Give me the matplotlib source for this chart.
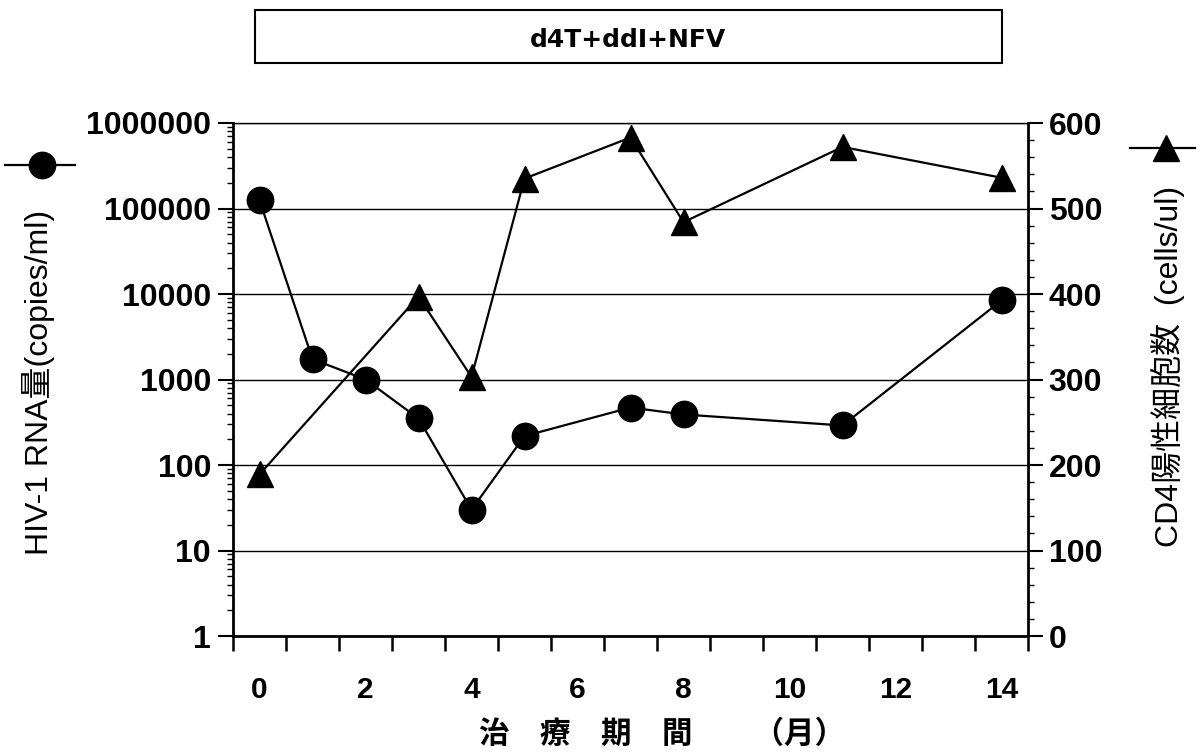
import matplotlib
matplotlib.use('Agg')
import matplotlib.pyplot as plt
from matplotlib.ticker import FixedLocator, NullFormatter, LogLocator, MultipleLocator
from matplotlib.lines import Line2D
from matplotlib.patches import Rectangle

# ---- data ----
months = list(range(15))
x_tick_months = [0, 2, 4, 6, 8, 10, 12, 14]
x_tick_labels = ['0', '2', '4', '6', '8', '10', '12', '14']

rna_months = [0, 1, 2, 3, 4, 5, 7, 8, 11, 14]
rna_values = [125000, 1730, 1000, 350, 30, 218, 470, 390, 290, 8400]

cd4_months = [0, 3, 4, 5, 7, 8, 11, 14]
cd4_values = [189, 397, 303, 535, 583, 484, 572, 536]

rna_ticks = [1, 10, 100, 1000, 10000, 100000, 1000000]
rna_tick_labels = ['1', '10', '100', '1000', '10000', '100000', '1000000']
cd4_ticks = [0, 100, 200, 300, 400, 500, 600]
cd4_tick_labels = ['0', '100', '200', '300', '400', '500', '600']

title_text = 'd4T+ddI+NFV'
left_label = 'HIV-1 RNA量(copies/ml)'
right_label = 'CD4陽性細胞数  (cells/ul)'
x_label = '治　療　期　間　　（月）'

# ---- figure ----
W, H = 1200, 754
fig = plt.figure(figsize=(W / 100, H / 100), dpi=100)


def fx(px):
    return px / W


def fy(py):
    return 1 - py / H


LAT = ['Liberation Sans', 'Noto Sans CJK JP', 'DejaVu Sans']
CJK = ['Noto Sans CJK JP', 'DejaVu Sans']

ax = fig.add_axes([fx(233), fy(636), fx(1028) - fx(233), fy(123) - fy(636)])
ax.set_yscale('log')
ax.set_ylim(1, 1e6)
ax.set_xlim(months[0] - 0.5, months[-1] + 0.5)

# x ticks: labels at even months, tick marks between categories
ax.xaxis.set_major_locator(FixedLocator(x_tick_months))
ax.set_xticklabels(x_tick_labels)
bounds = [m - 0.5 for m in months] + [months[-1] + 0.5]
ax.xaxis.set_minor_locator(FixedLocator(bounds))
ax.xaxis.set_minor_formatter(NullFormatter())
ax.tick_params(axis='x', which='major', length=0, pad=29, labelsize=21.5)
ax.tick_params(axis='x', which='minor', length=10.8, width=1.8, direction='out')

# left y
ax.yaxis.set_major_locator(FixedLocator(rna_ticks))
ax.set_yticklabels(rna_tick_labels)
ax.yaxis.set_minor_locator(LogLocator(base=10, subs=range(2, 10), numticks=20))
ax.yaxis.set_minor_formatter(NullFormatter())
ax.tick_params(axis='y', which='major', length=10.8, width=1.5, direction='out', pad=5, labelsize=23)
ax.tick_params(axis='y', which='minor', length=4, width=1.0, direction='out')

for lab in ax.get_xticklabels() + ax.get_yticklabels():
    lab.set_fontfamily(LAT)
    lab.set_fontweight('bold')

ax.yaxis.grid(True, which='major', color='black', linewidth=1.0)
ax.set_axisbelow(True)

for s in ['left', 'bottom']:
    ax.spines[s].set_linewidth(2.0)
ax.spines['top'].set_linewidth(1.0)
ax.spines['right'].set_visible(False)

ax.plot(rna_months, rna_values, color='black', linewidth=1.6, marker='o',
        markersize=19, markerfacecolor='black', markeredgecolor='black', zorder=5,
        clip_on=False)

# right y
ax2 = ax.twinx()
ax2.set_ylim(0, 600)
ax2.yaxis.set_major_locator(FixedLocator(cd4_ticks))
ax2.set_yticklabels(cd4_tick_labels)
ax2.yaxis.set_minor_locator(MultipleLocator(20))
ax2.yaxis.set_minor_formatter(NullFormatter())
ax2.tick_params(axis='y', which='major', length=10.8, width=1.5, direction='out', pad=4, labelsize=23)
ax2.tick_params(axis='y', which='minor', length=4, width=1.0, direction='out')
for lab in ax2.get_yticklabels():
    lab.set_fontfamily(LAT)
    lab.set_fontweight('bold')
for s in ['left', 'bottom', 'top']:
    ax2.spines[s].set_visible(False)
ax2.spines['right'].set_linewidth(2.0)

ax2.plot(cd4_months, cd4_values, color='black', linewidth=1.6, marker='^',
         markersize=19, markerfacecolor='black', markeredgecolor='black', zorder=5,
         clip_on=False)

# axis titles
fig.text(fx(39), fy(382), left_label, rotation=90, ha='center', va='center',
         fontsize=23, family=LAT)
fig.text(fx(1168), fy(366), right_label, rotation=90, ha='center', va='center',
         fontsize=23, family=LAT)
fig.text(fx(479), fy(734), x_label, ha='left', va='center', fontsize=22,
         family=CJK, fontweight='bold')

# title box
fig.add_artist(Rectangle((fx(255), fy(63)), fx(1002) - fx(255), fy(10) - fy(63),
                         transform=fig.transFigure, fill=False, edgecolor='black',
                         linewidth=1.5))
fig.text(fx(628), fy(40), title_text, ha='center', va='center', fontsize=18,
         family=['DejaVu Sans'], fontweight='bold')

# series glyphs outside the axes
fig.add_artist(Line2D([fx(5), fx(75)], [fy(165), fy(165)], transform=fig.transFigure,
                      color='black', linewidth=1.6))
fig.add_artist(Line2D([fx(42)], [fy(165)], transform=fig.transFigure, color='black',
                      marker='o', markersize=19, linestyle='none'))
fig.add_artist(Line2D([fx(1130), fx(1195)], [fy(148), fy(148)], transform=fig.transFigure,
                      color='black', linewidth=1.6))
fig.add_artist(Line2D([fx(1166)], [fy(148)], transform=fig.transFigure, color='black',
                      marker='^', markersize=19, linestyle='none'))

fig.savefig('out.png', dpi=100)
